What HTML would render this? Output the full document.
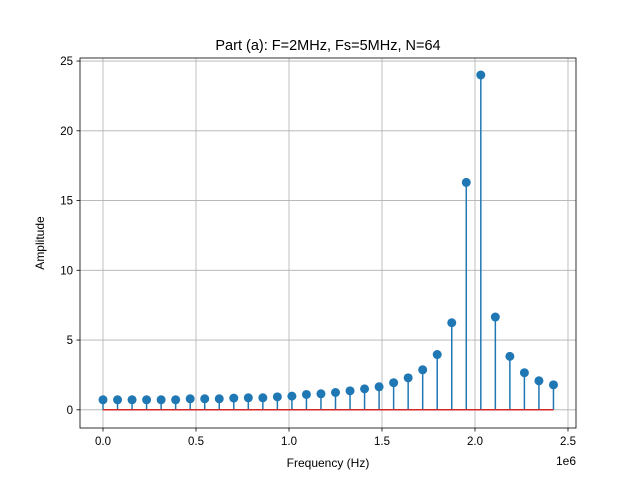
<!DOCTYPE html>
<html><head><meta charset="utf-8"><style>body{margin:0;background:#fff}svg{display:block;font-family:"Liberation Sans","DejaVu Sans",sans-serif}</style></head>
<body>
<svg id="c" width="640" height="480"></svg>
<script>
const amplitudes=[0.72,0.72,0.72,0.72,0.72,0.72,0.79,0.79,0.79,0.84,0.86,0.86,0.93,0.98,1.10,1.15,1.24,1.36,1.50,1.65,1.94,2.29,2.87,3.96,6.24,16.3,24.0,6.65,3.83,2.66,2.08,1.79];
const xTicks=[0,0.5,1.0,1.5,2.0,2.5];
const xTickLabels=["0.0","0.5","1.0","1.5","2.0","2.5"];
const yTicks=[0,5,10,15,20,25];
const fs=5e6,N=64;
const svg=document.getElementById('c');const NS='http://www.w3.org/2000/svg';
const L=80,R=576,T=58,B=428;
const xs=f=>103+(f/1e6)*186;
const ys=v=>409.8-v*13.95;
function mk(t,a,p){const e=document.createElementNS(NS,t);for(const k in a)e.setAttribute(k,a[k]);(p||svg).appendChild(e);return e;}
xTicks.forEach((t,i)=>{const x=xs(t*1e6);
const g=mk('line',{x1:x,x2:x,y1:T,y2:B,stroke:'#b0b0b0','stroke-width':0.8});

mk('line',{x1:x,x2:x,y1:B,y2:B+3.5,stroke:'#000','stroke-width':0.8});
const tx=mk('text',{x:x,y:B+17,'text-anchor':'middle','font-size':11.5});tx.textContent=xTickLabels[i];
});
yTicks.forEach(t=>{const y=ys(t);
const g=mk('line',{x1:L,x2:R,y1:y,y2:y,stroke:'#b0b0b0','stroke-width':0.8});

mk('line',{x1:L-3.5,x2:L,y1:y,y2:y,stroke:'#000','stroke-width':0.8});
const tx=mk('text',{x:L-7,y:y+4,'text-anchor':'end','font-size':11.5});tx.textContent=t;
});
amplitudes.forEach((v,k)=>{const x=xs(k*fs/N);
const s=mk('line',{x1:x,x2:x,y1:ys(0),y2:ys(v),stroke:'#1f77b4','stroke-width':1.5});
});
const bl=mk('line',{x1:xs(0),x2:xs((amplitudes.length-1)*fs/N),y1:ys(0),y2:ys(0),stroke:'#d62728','stroke-width':1.5});

amplitudes.forEach((v,k)=>{const m=mk('circle',{cx:xs(k*fs/N),cy:ys(v),r:4.5,fill:'#1f77b4'});
});
const fr=mk('rect',{x:L,y:T,width:R-L,height:B-T,fill:'none',stroke:'#000','stroke-width':0.8});

function txt(s,a,name){const e=mk('text',a);e.textContent=s;}
txt('Part (a): F=2MHz, Fs=5MHz, N=64',{x:328,y:50,'text-anchor':'middle','font-size':14.5},'chart-title');
txt('Frequency (Hz)',{x:328,y:467,'text-anchor':'middle','font-size':12},'x-axis-title');
txt('Amplitude',{x:44,y:243,'text-anchor':'middle','font-size':12,transform:'rotate(-90 44 243)'},'y-axis-title');
txt('1e6',{x:576,y:465,'text-anchor':'end','font-size':12},'x-axis-offset');
</script>
</body></html>
